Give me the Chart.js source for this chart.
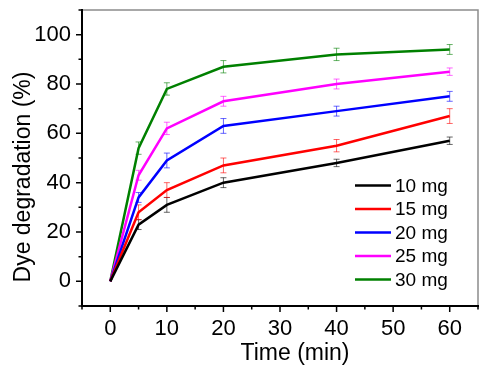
<!DOCTYPE html>
<html>
<head>
<meta charset="utf-8">
<script src="https://cdn.jsdelivr.net/npm/chart.js@4"></script>
<style>
html,body{margin:0;padding:0;background:#fff;}
#wrap{width:491px;height:378px;position:relative;}
</style>
</head>
<body>
<div id="wrap"><canvas id="c" width="491" height="378"></canvas></div>
<script>
const times = [0, 5, 10, 20, 40, 60];
const seriesNames = ['10 mg', '15 mg', '20 mg', '25 mg', '30 mg'];
const seriesColors = ['#000000', '#ff0000', '#0000ff', '#ff00ff', '#008000'];
const deg10 = [0, 23, 31, 40, 48, 57];
const deg15 = [0, 28, 37, 47, 55, 67];
const deg20 = [0, 34, 49, 63, 69, 75];
const deg25 = [0, 43, 62, 73, 80, 85];
const deg30 = [0, 54, 78, 87, 92, 94];
const err10 = [0, 2, 3, 2, 1.5, 1.5];
const err15 = [0, 3, 3, 3, 2.5, 3];
const err20 = [0, 2, 3, 3, 2, 2];
const err25 = [0, 2, 2.5, 2, 2, 1.5];
const err30 = [0, 2.5, 2.5, 2.5, 2.5, 2];
const xTickLabels = [0, 10, 20, 30, 40, 50, 60];
const xMinorTicks = [-5, 5, 15, 25, 35, 45, 55, 65];
const yTickLabels = [0, 20, 40, 60, 80, 100];
const yMinorTicks = [-10, 10, 30, 50, 70, 90, 110];
const xTitle = 'Time (min)';
const yTitle = 'Dye degradation (%)';

const values = [deg10, deg15, deg20, deg25, deg30];
const errors = [err10, err15, err20, err25, err30];

const datasets = values.map((v, i) => ({
  label: seriesNames[i],
  data: times.map((t, j) => ({x: t, y: v[j]})),
  borderColor: seriesColors[i],
  backgroundColor: seriesColors[i],
  borderWidth: 2.5,
  pointRadius: 0,
  tension: 0,
  errs: errors[i]
}));

function hexA(hex, a){
  const r = parseInt(hex.slice(1,3),16), g = parseInt(hex.slice(3,5),16), b = parseInt(hex.slice(5,7),16);
  return `rgba(${r},${g},${b},${a})`;
}

const FONT = '"Liberation Sans", Arial, sans-serif';

const decor = {
  id: 'decor',
  beforeDatasetsDraw(chart) {
    const ctx = chart.ctx;
    const xs = chart.scales.x, ys = chart.scales.y;
    ctx.save();
    chart.data.datasets.forEach((ds) => {
      ctx.strokeStyle = hexA(ds.borderColor, 0.6);
      ctx.lineWidth = 1;
      ds.data.forEach((p, j) => {
        const e = ds.errs[j];
        if (!e) return;
        const px = xs.getPixelForValue(p.x);
        const y1 = ys.getPixelForValue(p.y + e), y2 = ys.getPixelForValue(p.y - e);
        ctx.beginPath();
        ctx.moveTo(px, y1); ctx.lineTo(px, y2);
        ctx.moveTo(px - 3, y1); ctx.lineTo(px + 3, y1);
        ctx.moveTo(px - 3, y2); ctx.lineTo(px + 3, y2);
        ctx.stroke();
      });
    });
    ctx.restore();
  },
  afterDraw(chart) {
    const ctx = chart.ctx, ca = chart.chartArea;
    const xs = chart.scales.x, ys = chart.scales.y;
    ctx.save();
    ctx.strokeStyle = '#8c8c8c';
    ctx.lineWidth = 1.5;
    ctx.beginPath();
    ctx.moveTo(ca.left, ca.top); ctx.lineTo(ca.right, ca.top); ctx.lineTo(ca.right, ca.bottom);
    ctx.stroke();
    ctx.strokeStyle = '#000';
    ctx.lineWidth = 2;
    ctx.beginPath();
    ctx.moveTo(ca.left, ca.top - 1); ctx.lineTo(ca.left, ca.bottom);
    ctx.lineTo(ca.right + 1, ca.bottom);
    ctx.stroke();
    ctx.lineWidth = 1.5;
    ctx.beginPath();
    xTickLabels.forEach(v => { const p = xs.getPixelForValue(v); ctx.moveTo(p, ca.bottom); ctx.lineTo(p, ca.bottom + 6); });
    xMinorTicks.forEach(v => { const p = xs.getPixelForValue(v); ctx.moveTo(p, ca.bottom); ctx.lineTo(p, ca.bottom + 3.5); });
    yTickLabels.forEach(v => { const p = ys.getPixelForValue(v); ctx.moveTo(ca.left, p); ctx.lineTo(ca.left - 6, p); });
    yMinorTicks.forEach(v => { const p = ys.getPixelForValue(v); ctx.moveTo(ca.left, p); ctx.lineTo(ca.left - 3.5, p); });
    ctx.stroke();
    ctx.font = '19px ' + FONT;
    ctx.textBaseline = 'middle';
    ctx.textAlign = 'left';
    chart.data.datasets.forEach((ds, i) => {
      const y = 185.5 + i * 23.5;
      ctx.strokeStyle = ds.borderColor;
      ctx.lineWidth = 2.5;
      ctx.beginPath(); ctx.moveTo(355, y); ctx.lineTo(391, y); ctx.stroke();
      ctx.fillStyle = '#000';
      ctx.fillText(ds.label, 395, y + 1);
    });
    ctx.font = '23px ' + FONT;
    ctx.fillStyle = '#000';
    ctx.textAlign = 'center';
    ctx.textBaseline = 'middle';
    ctx.fillText(xTitle, 295, 354);
    ctx.translate(24, 177);
    ctx.rotate(-Math.PI / 2);
    ctx.fillText(yTitle, 0, 0);
    ctx.restore();
  }
};

new Chart(document.getElementById('c'), {
  type: 'line',
  data: { datasets },
  options: {
    responsive: false,
    animation: false,
    events: [],
    layout: { padding: { left: 0, top: 10, right: 13, bottom: 0 } },
    plugins: { legend: { display: false }, tooltip: { enabled: false } },
    scales: {
      x: {
        type: 'linear', min: -5, max: 65,
        grid: { display: false, drawTicks: false }, border: { display: false },
        afterBuildTicks: s => { s.ticks = xTickLabels.map(v => ({ value: v })); },
        afterFit: s => { s.height = 72; s.paddingLeft = 0; s.paddingRight = 0; },
        ticks: { color: '#000', padding: 10, maxRotation: 0, autoSkip: false, font: { size: 22, family: FONT } }
      },
      y: {
        type: 'linear', min: -10, max: 110,
        grid: { display: false, drawTicks: false }, border: { display: false },
        afterBuildTicks: s => { s.ticks = yTickLabels.map(v => ({ value: v })); },
        afterFit: s => { s.width = 82; s.paddingTop = 0; s.paddingBottom = 0; },
        ticks: { color: '#000', padding: 11, autoSkip: false, font: { size: 22, family: FONT } }
      }
    }
  },
  plugins: [decor]
});
</script>
</body>
</html>
